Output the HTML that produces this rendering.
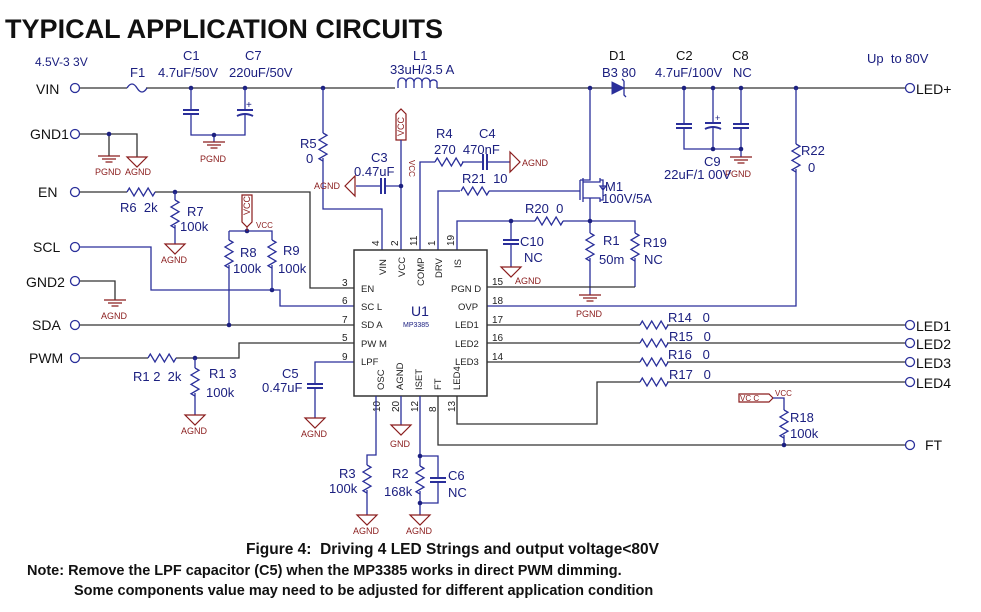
<!DOCTYPE html>
<html><head><meta charset="utf-8"><style>
html,body{margin:0;padding:0;background:#fff}
svg{display:block}
text{font-family:"Liberation Sans",sans-serif}
.w{stroke:#2a2f9a;stroke-width:1.3;fill:none}
.k{stroke:#333;stroke-width:1.3;fill:none}
.r{stroke:#8a1c1c;stroke-width:1.2;fill:none}
.lb{fill:#1c2080;font-size:13px}
.lk{fill:#111;font-size:14px}
.g{fill:#8a1c1c;font-size:9px}
.p{fill:#222;font-size:9.5px}
.pn{fill:#222;font-size:10px}
</style></head><body>
<svg width="981" height="612" viewBox="0 0 981 612" xmlns="http://www.w3.org/2000/svg">
<defs>
<path id="rh" d="M0 0 l2.3 -4 l4.7 8 l4.7 -8 l4.7 8 l4.7 -8 l4.7 8 l2.3 -4" stroke="#2a2f9a" stroke-width="1.3" fill="none"/>
<path id="rv" d="M0 0 l4 2.3 l-8 4.7 l8 4.7 l-8 4.7 l8 4.7 l-8 4.7 l4 2.3" stroke="#2a2f9a" stroke-width="1.3" fill="none"/>
<g id="ag"><path d="M-10 0 h20 l-10 10 z" stroke="#8a1c1c" stroke-width="1.2" fill="none"/></g>
<g id="pg"><path d="M-11 0 h22 M-7 3 h14 M-3.5 6 h7" stroke="#8a1c1c" stroke-width="1.2"/></g>
<g id="cv"><path d="M-8 -2 h16 M-8 2 h16" stroke="#2a2f9a" stroke-width="2"/></g>
<g id="ch"><path d="M-2 -8 v16 M2 -8 v16" stroke="#2a2f9a" stroke-width="2"/></g>
<circle id="d" r="2.3" fill="#1c2080"/>
<circle id="o" r="4.5" fill="#fff" stroke="#2a2f9a" stroke-width="1.3"/>
</defs>

<text x="5" y="38" style="font-size:27px" font-weight="bold" fill="#111" textLength="438" lengthAdjust="spacingAndGlyphs">TYPICAL APPLICATION CIRCUITS</text>

<!-- top rail -->
<text x="35" y="66" class="lb" style="font-size:12px">4.5V-3 3V</text>
<text x="36" y="94" class="lk">VIN</text>
<path class="k" d="M80 88 H127 M146 88 H395 M437 88 H612"/>
<path class="w" d="M127 88 q5 -8 10 0 q5 8 10 0"/>
<use href="#o" x="75" y="88"/>
<text x="130" y="77" class="lb">F1</text>
<text x="183" y="60" class="lb">C1</text>
<text x="158" y="77" class="lb">4.7uF/50V</text>
<text x="245" y="60" class="lb">C7</text>
<text x="229" y="77" class="lb">220uF/50V</text>
<text x="413" y="60" class="lb">L1</text>
<text x="390" y="74" class="lb">33uH/3.5 A</text>
<path class="w" d="M398 88 v-6 a4 4 0 0 1 8 0 v6 M406 82 a4 4 0 0 1 8 0 v6 M414 82 a4 4 0 0 1 8 0 v6 M422 82 a4 4 0 0 1 8 0 v6 M430 82 a4 4 0 0 1 7 0 v6"/>
<use href="#d" x="191" y="88"/><use href="#d" x="245" y="88"/><use href="#d" x="323" y="88"/><use href="#d" x="590" y="88"/>
<path class="w" d="M191 88 V110 M191 114 V135 H245 V114 M245 88 V110 M214 135 V142"/>
<use href="#cv" x="191" y="112"/>
<path d="M237 110 h16 M237 116 q8 -4 16 0" stroke="#2a2f9a" stroke-width="2" fill="none"/>
<text x="246" y="108" class="lb" style="font-size:10px">+</text>
<use href="#d" x="214" y="135"/>
<use href="#pg" x="214" y="142"/><text x="200" y="162" class="g">PGND</text>

<!-- GND1 -->
<text x="30" y="139" class="lk">GND1</text><use href="#o" x="75" y="134"/>
<path class="k" d="M80 134 H137 V157 M109 134 V156"/><use href="#d" x="109" y="134"/>
<use href="#pg" x="109" y="156"/><use href="#ag" x="137" y="157"/>
<text x="95" y="175" class="g">PGND</text><text x="125" y="175" class="g">AGND</text>

<!-- EN -->
<text x="38" y="197" class="lk">EN</text><use href="#o" x="75" y="192"/>
<path class="k" d="M80 192 H127 M155 192 H310 V288 H354"/>
<use href="#rh" x="127" y="192"/><use href="#d" x="175" y="192"/>
<path class="w" d="M175 192 V200 M175 225 V244"/><use href="#rv" x="175" y="200"/>
<use href="#ag" x="175" y="244"/><text x="161" y="263" class="g">AGND</text>
<text x="120" y="212" class="lb">R6&#160; 2k</text>
<text x="187" y="216" class="lb">R7</text><text x="180" y="231" class="lb">100k</text>

<!-- SCL / R8 R9 -->
<text x="33" y="252" class="lk">SCL</text><use href="#o" x="75" y="247"/>
<path class="w" d="M80 247 H151 V290 H280 V306 H354"/>
<use href="#d" x="272" y="290"/>
<path class="w" d="M229 231 H272 V240 M272 265 V290 M229 231 V240 M229 265 V325"/>
<use href="#rv" x="229" y="240"/><use href="#rv" x="272" y="240"/>
<use href="#d" x="247" y="231"/>
<path class="r" d="M242 195 h10 v27 l-5 5 l-5 -5 z M247 227 V231"/>
<text x="250" y="215" class="g" transform="rotate(-90 250 215)">VCC</text>
<text x="256" y="228" class="g" style="font-size:8px">VCC</text>
<text x="240" y="257" class="lb">R8</text><text x="233" y="273" class="lb">100k</text>
<text x="283" y="255" class="lb">R9</text><text x="278" y="273" class="lb">100k</text>

<!-- GND2 -->
<text x="26" y="287" class="lk">GND2</text><use href="#o" x="75" y="281"/>
<path class="k" d="M80 281 H115 V300"/><use href="#pg" x="115" y="300"/>
<text x="101" y="319" class="g">AGND</text>

<!-- SDA -->
<text x="32" y="330" class="lk">SDA</text><use href="#o" x="75" y="325"/>
<path class="k" d="M80 325 H354"/><use href="#d" x="229" y="325"/>

<!-- PWM -->
<text x="29" y="363" class="lk">PWM</text><use href="#o" x="75" y="358"/>
<path class="k" d="M80 358 H148 M176 358 H239 V343 H354"/>
<use href="#rh" x="148" y="358"/><use href="#d" x="195" y="358"/>
<path class="w" d="M195 358 V368 M195 393 V415"/><use href="#rv" x="195" y="368"/>
<use href="#ag" x="195" y="415"/><text x="181" y="434" class="g">AGND</text>
<text x="133" y="381" class="lb">R1 2&#160; 2k</text>
<text x="209" y="378" class="lb">R1 3</text><text x="206" y="397" class="lb">100k</text>

<!-- LPF C5 -->
<path class="w" d="M354 362 H315 V384 M315 388 V418"/><use href="#cv" x="315" y="386"/>
<use href="#ag" x="315" y="418"/><text x="301" y="437" class="g">AGND</text>
<text x="282" y="378" class="lb">C5</text><text x="262" y="392" class="lb">0.47uF</text>

<!-- R5, VIN pin -->
<path class="w" d="M323 88 V133 M323 158 V209 H382 V250"/><use href="#rv" x="323" y="133"/>
<text x="300" y="148" class="lb">R5</text><text x="306" y="163" class="lb">0</text>
<!-- VCC pin -->
<path class="r" d="M396 140 V114 l5 -5 l5 5 v26 z"/>
<text x="404" y="136" class="g" transform="rotate(-90 404 136)">VCC</text>
<path class="w" d="M401 140 V250 M401 186 H385 M381 186 H356"/><use href="#d" x="401" y="186"/>
<use href="#ch" x="383" y="186"/>
<path class="r" d="M345 186 l10 -10 v20 z"/>
<text x="314" y="189" class="g">AGND</text>
<text x="371" y="162" class="lb">C3</text><text x="354" y="176" class="lb">0.47uF</text>
<text x="409" y="160" class="g" style="font-size:8px" transform="rotate(90 409 160)">VCC</text>

<!-- COMP -->
<path class="w" d="M420 250 V162 H435 M462 162 H483 M487 162 H510"/><use href="#rh" x="435" y="162"/>
<use href="#ch" x="485" y="162"/><path class="r" d="M510 152 l10 10 l-10 10 z"/>
<text x="522" y="166" class="g">AGND</text>
<text x="436" y="138" class="lb">R4</text><text x="479" y="138" class="lb">C4</text>
<text x="434" y="154" class="lb">270&#160; 470nF</text>
<!-- DRV -->
<path class="w" d="M438 250 V191 H460 M489 191 H580"/><use href="#rh" x="461" y="191"/>
<text x="462" y="183" class="lb">R21&#160; 10</text>
<!-- M1 -->
<path class="w" d="M590 88 V180 H580 M580 180 V200 M583 178 V202 M583 182 H600 V178 M583 198 H600 V202 M590 198 V221"/>
<path class="w" d="M600 180 H603 V200 H600 M603 190 l-3 -4 h6 z"/>
<text x="605" y="191" class="lb">M1</text><text x="602" y="203" class="lb">100V/5A</text>
<!-- diode -->
<path d="M612 82 v12 l12 -6 z" fill="#2a2f9a" stroke="#2a2f9a"/><path class="w" d="M624 81 V95 l2 2 M622 79 l2 2"/>
<path class="k" d="M624 88 H905"/>
<text x="609" y="60" class="lk" style="font-size:13px">D1</text><text x="602" y="77" class="lb">B3 80</text>
<!-- output caps -->
<path class="w" d="M684 88 V124 M684 128 V149 H741 V128 M741 88 V124 M713 88 V122 M713 128 V149 M741 149 V157"/>
<use href="#cv" x="684" y="126"/><use href="#cv" x="741" y="126"/>
<path d="M705 123 h16 M705 129 q8 -4 16 0" stroke="#2a2f9a" stroke-width="2" fill="none"/>
<text x="715" y="121" class="lb" style="font-size:9px">+</text>
<use href="#d" x="684" y="88"/><use href="#d" x="713" y="88"/><use href="#d" x="741" y="88"/><use href="#d" x="796" y="88"/>
<use href="#d" x="713" y="149"/><use href="#d" x="741" y="149"/>
<use href="#pg" x="741" y="157"/><text x="725" y="177" class="g">PGND</text>
<text x="676" y="60" class="lk" style="font-size:13px">C2</text><text x="655" y="77" class="lb">4.7uF/100V</text>
<text x="732" y="60" class="lk" style="font-size:13px">C8</text><text x="733" y="77" class="lb">NC</text>
<text x="704" y="166" class="lb">C9</text><text x="664" y="179" class="lb">22uF/1 00V</text>
<text x="867" y="63" class="lb">Up&#160; to 80V</text>
<use href="#o" x="910" y="88"/><text x="916" y="94" class="lk">LED+</text>
<!-- R22 / OVP -->
<path class="w" d="M796 88 V144 M796 169 V306 H487"/><use href="#rv" x="796" y="144"/>
<text x="801" y="155" class="lb">R22</text><text x="808" y="172" class="lb">0</text>

<!-- IS, R20, R1 R19 C10 -->
<path class="w" d="M457 250 V221 H535 M563 221 H635 V233 M635 258 V287 M590 221 V233 M590 258 V295 M511 221 V240 M511 244 V267"/>
<use href="#rh" x="535" y="221"/><use href="#rv" x="590" y="233"/><use href="#rv" x="635" y="233"/>
<use href="#cv" x="511" y="242"/><use href="#ag" x="511" y="267"/>
<use href="#d" x="511" y="221"/><use href="#d" x="590" y="221"/>
<text x="525" y="213" class="lb">R20&#160; 0</text>
<text x="520" y="246" class="lb">C10</text><text x="524" y="262" class="lb">NC</text>
<text x="515" y="284" class="g">AGND</text>
<text x="603" y="245" class="lb">R1</text><text x="599" y="264" class="lb">50m</text>
<text x="643" y="247" class="lb">R19</text><text x="644" y="264" class="lb">NC</text>
<path class="k" d="M487 287 H635"/><use href="#pg" x="590" y="295"/><text x="576" y="317" class="g">PGND</text>

<!-- LED outputs -->
<path class="k" d="M487 325 H640 M667 325 H905 M487 343 H640 M667 343 H905 M487 362 H640 M667 362 H905 M457 396 V424 H597 V382 H640 M667 382 H905"/>
<use href="#rh" x="640" y="325"/><use href="#rh" x="640" y="343"/><use href="#rh" x="640" y="362"/><use href="#rh" x="640" y="382"/>
<text x="668" y="322" class="lb">R14&#160;&#160; 0</text><text x="669" y="341" class="lb">R15&#160;&#160; 0</text>
<text x="668" y="359" class="lb">R16&#160;&#160; 0</text><text x="669" y="379" class="lb">R17&#160;&#160; 0</text>
<use href="#o" x="910" y="325"/><use href="#o" x="910" y="343"/><use href="#o" x="910" y="362"/><use href="#o" x="910" y="382"/>
<text x="916" y="331" class="lk">LED1</text><text x="916" y="349" class="lk">LED2</text><text x="916" y="368" class="lk">LED3</text><text x="916" y="388" class="lk">LED4</text>
<!-- FT -->
<path class="k" d="M438 396 V445 H905"/><use href="#o" x="910" y="445"/><text x="925" y="450" class="lk">FT</text>
<path class="r" d="M739 394 h30 l4 4 l-4 4 h-30 z"/><text x="740" y="401" class="g" style="font-size:8px">VC C</text>
<text x="775" y="396" class="g" style="font-size:8px">VCC</text>
<path class="w" d="M773 398 H784 V410 M784 435 V445"/><use href="#rv" x="784" y="410"/><use href="#d" x="784" y="445"/>
<text x="790" y="422" class="lb">R18</text><text x="790" y="438" class="lb">100k</text>

<!-- IC -->
<rect x="354" y="250" width="133" height="146" fill="#fff" stroke="#333" stroke-width="1.5"/>
<g class="pn">
<text x="379" y="246" transform="rotate(-90 379 246)">4</text>
<text x="398" y="246" transform="rotate(-90 398 246)">2</text>
<text x="417" y="246" transform="rotate(-90 417 246)">11</text>
<text x="435" y="246" transform="rotate(-90 435 246)">1</text>
<text x="454" y="246" transform="rotate(-90 454 246)">19</text>
<text x="342" y="286">3</text><text x="342" y="304">6</text><text x="342" y="323">7</text><text x="342" y="341">5</text><text x="342" y="360">9</text>
<text x="492" y="285">15</text><text x="492" y="304">18</text><text x="492" y="323">17</text><text x="492" y="341">16</text><text x="492" y="360">14</text>
<text x="380" y="412" transform="rotate(-90 380 412)">10</text>
<text x="399" y="412" transform="rotate(-90 399 412)">20</text>
<text x="418" y="412" transform="rotate(-90 418 412)">12</text>
<text x="436" y="412" transform="rotate(-90 436 412)">8</text>
<text x="455" y="412" transform="rotate(-90 455 412)">13</text>
</g>
<g class="p">
<text x="386" y="275" transform="rotate(-90 386 275)">VIN</text>
<text x="405" y="277" transform="rotate(-90 405 277)">VCC</text>
<text x="424" y="286" transform="rotate(-90 424 286)">COMP</text>
<text x="442" y="278" transform="rotate(-90 442 278)">DRV</text>
<text x="461" y="268" transform="rotate(-90 461 268)">IS</text>
<text x="361" y="292">EN</text><text x="361" y="310">SC L</text><text x="361" y="328">SD A</text><text x="361" y="347">PW M</text><text x="361" y="365">LPF</text>
<text x="451" y="292">PGN D</text><text x="458" y="310">OVP</text><text x="455" y="328">LED1</text><text x="455" y="347">LED2</text><text x="455" y="365">LED3</text>
<text x="384" y="390" transform="rotate(-90 384 390)">OSC</text>
<text x="403" y="390" transform="rotate(-90 403 390)">AGND</text>
<text x="422" y="390" transform="rotate(-90 422 390)">ISET</text>
<text x="441" y="390" transform="rotate(-90 441 390)">FT</text>
<text x="460" y="390" transform="rotate(-90 460 390)">LED4</text>
</g>
<text x="411" y="316" class="lb" style="font-size:14px">U1</text>
<text x="403" y="327" class="lb" style="font-size:7px">MP3385</text>

<!-- bottom pins -->
<path class="w" d="M376 396 V455 H367 V465 M367 490 V515 M401 396 V425 M420 396 V456 V466 M420 491 V503 V515 M420 456 H438 V478 M438 482 V503 H420"/>
<use href="#rv" x="367" y="465"/><use href="#rv" x="420" y="466"/><use href="#cv" x="438" y="480"/>
<use href="#d" x="420" y="456"/><use href="#d" x="420" y="503"/>
<use href="#ag" x="367" y="515"/><use href="#ag" x="401" y="425"/><use href="#ag" x="420" y="515"/>
<text x="353" y="534" class="g">AGND</text><text x="390" y="447" class="g">GND</text><text x="406" y="534" class="g">AGND</text>
<text x="339" y="478" class="lb">R3</text><text x="329" y="493" class="lb">100k</text>
<text x="392" y="478" class="lb">R2</text><text x="384" y="496" class="lb">168k</text>
<text x="448" y="480" class="lb">C6</text><text x="448" y="497" class="lb">NC</text>

<text x="246" y="554" style="font-size:15.5px" font-weight="bold" fill="#111">Figure 4:&#160; Driving 4 LED Strings and output voltage&lt;80V</text>
<text x="27" y="575" style="font-size:14.5px" font-weight="bold" fill="#111">Note: Remove the LPF capacitor (C5) when the MP3385 works in direct PWM dimming.</text>
<text x="74" y="595" style="font-size:14.5px" font-weight="bold" fill="#111">Some components value may need to be adjusted for different application condition</text>
</svg>
</body></html>
